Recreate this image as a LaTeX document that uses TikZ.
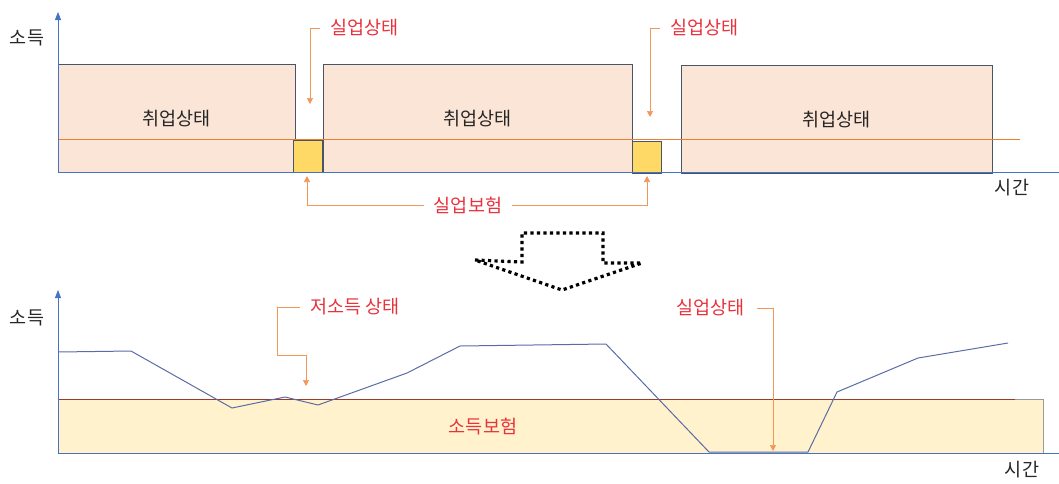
\documentclass[tikz,border=0pt]{standalone}
\usepackage{fontspec}
\setmainfont{Noto Sans CJK KR}
\usetikzlibrary{arrows.meta}
\definecolor{peach}{HTML}{FBE5D6}
\definecolor{gold}{HTML}{FFD966}
\definecolor{cream}{HTML}{FFF2CC}
\definecolor{orng}{HTML}{ED7D31}
\definecolor{axisblue}{HTML}{4472C4}
\definecolor{edge}{HTML}{4A5468}
\definecolor{lbred}{HTML}{E8323C}
\definecolor{curve}{HTML}{5A6CA6}
\definecolor{txt}{HTML}{262626}
\definecolor{rim}{HTML}{9A3A2A}
\tikzset{
  lbl/.style={font=\fontsize{18.5}{20}\selectfont, inner sep=0pt, text=txt},
  redlbl/.style={font=\fontsize{18.5}{20}\selectfont, inner sep=0pt, text=lbred},
  axisline/.style={draw=axisblue, line width=0.8pt},
  axisarrow/.style={axisline, -{Triangle[length=8pt,width=6pt]}},
  jobbox/.style={draw=edge, fill=peach, line width=0.9pt, inner sep=0pt, anchor=north west, font=\fontsize{18.5}{20}\selectfont, text=txt},
  unbox/.style={draw=edge, fill=gold, line width=0.9pt, inner sep=0pt, anchor=north west},
  insbox/.style={draw=gray!80, fill=cream, line width=0.8pt, inner sep=0pt, anchor=north west},
  callout/.style={draw=orng!80, line width=0.7pt, -{Triangle[length=6pt,width=6pt]}},
  calloutplain/.style={draw=orng!80, line width=0.7pt},
  income/.style={draw=curve, line width=1pt, line join=round},
  bigarrow/.style={draw=black, line width=3.2pt, dash pattern=on 3.2pt off 3.3pt, line join=miter}
}
\begin{document}
\begin{tikzpicture}[x=1pt,y=-1pt]
\useasboundingbox (0,0) rectangle (1059,483);

% ---------- top panel ----------
\node[jobbox, minimum width=237pt, minimum height=108pt] (b1) at (58,64) {취업상태};
\node[jobbox, minimum width=309pt, minimum height=108pt] (b2) at (323,64) {취업상태};
\node[jobbox, minimum width=311pt, minimum height=108pt] (b3) at (681,65) {취업상태};

\coordinate (ol) at (58,139);
\coordinate (or) at (1020,139);
\draw[orng, line width=0.8pt] (ol) -- (or);

\node[unbox, minimum width=29pt, minimum height=32pt] (u1) at (293,140) {};
\node[unbox, minimum width=29pt, minimum height=32pt] (u2) at (632,141) {};

\coordinate (o1) at (58,172);
\coordinate (ytop1) at (58,12);
\coordinate (xend1) at (1059,172);
\draw[axisarrow] (o1) -- (ytop1);
\draw[axisline] (o1) -- (xend1);

\node[lbl] (inc1) at (27,38) {소득};
\node[lbl] (time1) at (1012,188) {시간};

\node[redlbl, anchor=west] (s1) at (330,28) {실업상태};
\coordinate (s1t) at (310,104);
\draw[callout] ([xshift=-10pt]s1.west) -| (s1t);

\node[redlbl, anchor=west] (s2) at (670,28) {실업상태};
\coordinate (s2t) at (650,117);
\draw[callout] ([xshift=-10pt]s2.west) -| (s2t);

\node[redlbl] (ui) at (468,205) {실업보험};
\coordinate (u1t) at (307,176);
\coordinate (u2t) at (647,176);
\draw[callout] ([xshift=-10pt]ui.west) -| (u1t);
\draw[callout] ([xshift=10pt]ui.east) -| (u2t);

% ---------- transition arrow ----------
\coordinate (a1) at (475,260);
\coordinate (a2) at (522,262);
\coordinate (a3) at (522,233);
\coordinate (a4) at (603,233);
\coordinate (a5) at (603,263);
\coordinate (a6) at (642,263);
\coordinate (a7) at (562,290);
\draw[bigarrow] (a1) -- (a2) -- (a3) -- (a4) -- (a5) -- (a6) -- (a7) -- cycle;

% ---------- bottom panel ----------
\node[insbox, minimum width=985pt, minimum height=54pt] (ins) at (58,399) {};
\coordinate (rl) at (58,399);
\coordinate (rr) at (1015,399);
\draw[rim, line width=0.9pt] (rl) -- (rr);

\node[redlbl] (insl) at (483,427) {소득보험};

\draw[income] (58,352) -- (131,351) -- (232,408) -- (285,397) -- (318,405)
  -- (407,373) -- (460,346) -- (606,344) -- (709,452) -- (808,452)
  -- (837,392) -- (918,358) -- (1008,343);

\coordinate (o2) at (58,453);
\coordinate (ytop2) at (58,290);
\coordinate (xend2) at (1059,453);
\draw[axisarrow] (o2) -- (ytop2);
\draw[axisline] (o2) -- (xend2);

\node[lbl] (inc2) at (27,318) {소득};
\node[lbl] (time2) at (1022,470) {시간};

\node[redlbl, anchor=west] (low) at (310,307) {저소득 상태};
\coordinate (lowk1) at (277,355);
\coordinate (lowt) at (306,386);
\draw[calloutplain] ([xshift=-10pt]low.west) -- ([xshift=-33pt]low.west) |- (lowk1);
\draw[callout] (lowk1) -| (lowt);

\node[redlbl, anchor=east] (s3) at (745,308) {실업상태};
\coordinate (s3t) at (773,451);
\draw[callout] ([xshift=12pt]s3.east) -| (s3t);

\end{tikzpicture}
\end{document}
